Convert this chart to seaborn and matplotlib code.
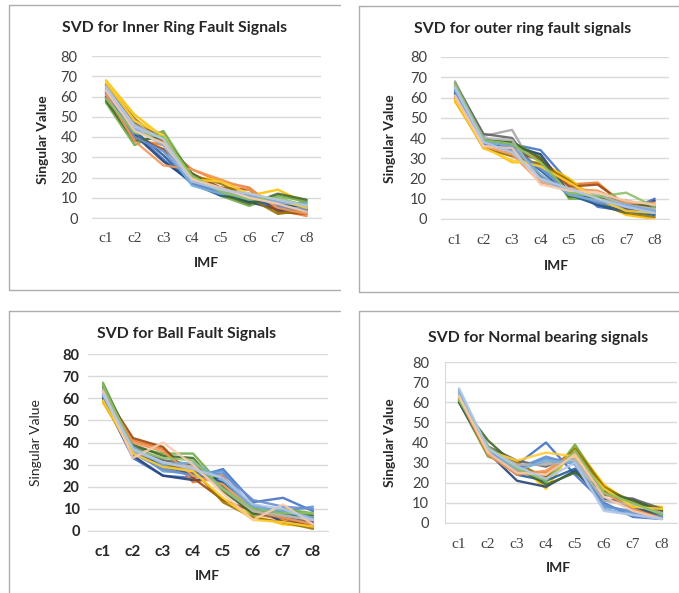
import matplotlib
matplotlib.use("Agg")
import matplotlib.pyplot as plt
from matplotlib.lines import Line2D
import seaborn as sns
import pandas as pd

imfs = ["c1", "c2", "c3", "c4", "c5", "c6", "c7", "c8"]
yticks = [0, 10, 20, 30, 40, 50, 60, 70, 80]

inner_ring = [
    [61, 42, 29, 17, 12, 8, 5, 4],
    [60, 39, 36, 24, 18, 15, 4, 1],
    [64, 45, 38, 20, 14, 10, 7, 5],
    [68, 51, 40, 20, 19, 11, 14, 7],
    [63, 44, 42, 18, 13, 9, 6, 8],
    [57, 36, 43, 21, 11, 6, 11, 8],
    [62, 41, 28, 18, 12, 8, 4, 3],
    [59, 40, 34, 22, 15, 14, 3, 2],
    [65, 47, 37, 19, 15, 11, 8, 5],
    [66, 49, 38, 21, 17, 10, 2, 4],
    [60, 43, 31, 17, 11, 9, 6, 6],
    [58, 38, 40, 22, 12, 7, 12, 9],
    [62, 40, 33, 17, 13, 12, 6, 4],
    [61, 38, 26, 24, 19, 14, 5, 2],
    [64, 46, 39, 20, 14, 10, 8, 6],
    [67, 48, 41, 19, 18, 12, 9, 5],
    [63, 44, 36, 16, 12, 11, 8, 7],
    [59, 42, 40, 21, 13, 9, 10, 6],
    [63, 43, 37, 19, 15, 10, 7, 3],
    [65, 45, 39, 18, 14, 12, 9, 6],
]

outer_ring = [
    [62, 39, 37, 34, 18, 6, 4, 10],
    [60, 37, 35, 30, 17, 18, 6, 7],
    [68, 41, 44, 20, 15, 11, 6, 4],
    [58, 36, 28, 28, 20, 9, 2, 0],
    [64, 38, 33, 26, 14, 9, 5, 3],
    [66, 38, 38, 31, 10, 10, 8, 5],
    [63, 40, 36, 32, 13, 7, 3, 9],
    [61, 37, 34, 29, 16, 17, 7, 6],
    [67, 42, 40, 21, 14, 10, 5, 3],
    [59, 35, 31, 27, 19, 8, 3, 1],
    [62, 38, 35, 24, 12, 7, 4, 2],
    [65, 39, 38, 30, 11, 11, 9, 6],
    [63, 37, 34, 25, 13, 8, 6, 4],
    [60, 36, 32, 18, 15, 14, 8, 8],
    [66, 40, 39, 19, 14, 12, 7, 5],
    [59, 35, 29, 26, 18, 10, 4, 3],
    [64, 38, 36, 22, 12, 9, 7, 4],
    [67, 39, 37, 28, 13, 11, 13, 6],
    [61, 36, 35, 17, 14, 13, 9, 7],
    [65, 38, 33, 20, 15, 10, 6, 3],
]

ball = [
    [60, 33, 25, 24, 28, 13, 15, 9],
    [62, 41, 37, 22, 25, 8, 5, 2],
    [64, 37, 30, 27, 22, 10, 7, 5],
    [58, 36, 28, 27, 14, 7, 3, 2],
    [61, 37, 27, 26, 27, 10, 9, 11],
    [67, 38, 35, 35, 20, 7, 10, 8],
    [60, 34, 25, 23, 24, 11, 4, 3],
    [63, 42, 38, 24, 14, 9, 6, 2],
    [65, 38, 32, 30, 20, 8, 6, 4],
    [59, 35, 30, 28, 13, 6, 4, 1],
    [61, 36, 29, 26, 22, 12, 8, 6],
    [66, 39, 34, 33, 18, 8, 9, 7],
    [62, 35, 28, 25, 26, 14, 11, 10],
    [63, 40, 36, 25, 21, 9, 6, 3],
    [64, 36, 31, 29, 19, 9, 7, 5],
    [59, 35, 29, 27, 15, 5, 4, 2],
    [61, 38, 30, 31, 23, 11, 9, 6],
    [66, 37, 33, 32, 19, 10, 8, 8],
    [63, 33, 40, 30, 17, 5, 12, 3],
    [62, 37, 31, 28, 24, 12, 10, 5],
]

normal = [
    [62, 38, 29, 40, 24, 10, 3, 2],
    [62, 35, 26, 25, 37, 15, 8, 3],
    [64, 37, 28, 30, 32, 12, 10, 6],
    [64, 36, 30, 17, 38, 19, 9, 8],
    [66, 36, 27, 32, 30, 8, 6, 3],
    [60, 33, 28, 20, 39, 17, 11, 5],
    [60, 35, 21, 18, 26, 11, 12, 5],
    [61, 34, 25, 23, 36, 16, 7, 4],
    [63, 38, 31, 28, 34, 14, 12, 7],
    [62, 37, 30, 22, 37, 18, 10, 6],
    [61, 35, 24, 21, 27, 12, 8, 4],
    [60, 41, 28, 19, 25, 16, 11, 6],
    [63, 36, 27, 33, 29, 9, 5, 3],
    [62, 34, 24, 26, 35, 15, 7, 2],
    [64, 37, 29, 29, 31, 11, 9, 5],
    [63, 36, 31, 35, 33, 17, 8, 7],
    [65, 37, 26, 31, 30, 7, 4, 2],
    [61, 38, 27, 21, 36, 15, 10, 4],
    [63, 35, 25, 24, 34, 13, 6, 2],
    [67, 37, 28, 22, 30, 6, 4, 2],
]

titles = ["SVD for Inner Ring Fault Signals", "SVD for outer ring fault signals",
          "SVD for Ball Fault Signals", "SVD for Normal bearing signals"]

palette = ["#4472C4", "#ED7D31", "#A5A5A5", "#FFC000", "#5B9BD5", "#70AD47",
           "#264478", "#9E480E", "#636363", "#997300", "#255E91", "#43682B",
           "#698ED0", "#F1975A", "#B7B7B7", "#FFCD33", "#7CAFDD", "#8CC168",
           "#F8CBAD", "#B4C7E7"]

sns.set_style("white")
plt.rcParams["font.family"] = ["Lato", "DejaVu Sans"]

W, H = 679, 593
fig = plt.figure(figsize=(W / 100, H / 100), dpi=100)

def fx(px):
    return px / W

def fy(py):
    return 1 - py / H

# panel frames (visible parts)
border = "#ADADAD"
frames = [
    [((9, 5), (9, 290)), ((9, 5), (340, 5)), ((9, 290), (340, 290))],
    [((359, 6), (359, 292)), ((359, 6), (679, 6)), ((359, 292), (679, 292))],
    [((9, 311), (9, 593)), ((9, 311), (340, 311))],
    [((359, 311), (359, 593)), ((359, 311), (679, 311))],
]
for segs in frames:
    for (x0, y0), (x1, y1) in segs:
        fig.add_artist(Line2D([fx(x0), fx(x1)], [fy(y0), fy(y1)], color=border, lw=1.0))

# axes extents in pixels: left, right, top(y=80), bottom(y=0)
boxes = [(91.6, 321, 56, 218), (440.7, 669, 57, 219), (88, 328, 354, 531), (444.5, 676.5, 362, 523)]
datasets = [inner_ring, outer_ring, ball, normal]
title_pos = [(174.5, 28), (523, 29), (187, 334), (538, 338)]
ylab_pos = [(43, 140), (390, 139), (36, 443), (390, 443)]
imf_pos = [(206, 263), (556, 266), (207, 576), (558, 568)]
ypads = [10, 10, 6, 11]
xpads = [10, 11, 10, 11]

for i in range(4):
    l, r, t, b = boxes[i]
    ax = fig.add_axes([fx(l), fy(b), (r - l) / W, (b - t) / H])
    rows = []
    for k, s in enumerate(datasets[i]):
        for c, v in zip(imfs, s):
            rows.append({"IMF": c, "value": v, "series": f"s{k + 1}"})
    df = pd.DataFrame(rows)
    sns.lineplot(data=df, x="IMF", y="value", hue="series", palette=palette,
                 legend=False, ax=ax, linewidth=1.7, sort=False, alpha=0.9)
    ax.set_xlim(-0.5, 7.5)
    ax.set_ylim(0, 80)
    ax.set_yticks(yticks)
    ax.yaxis.grid(True, color="#D9D9D9", lw=1.0)
    ax.set_axisbelow(True)
    for sp in ["top", "right", "left"]:
        ax.spines[sp].set_visible(False)
    ax.spines["bottom"].set_color("#D9D9D9")
    if i == 3:
        ax.spines["left"].set_visible(True)
        ax.spines["left"].set_color("#D9D9D9")
    ax.tick_params(axis="both", length=0)
    ax.tick_params(axis="y", pad=ypads[i])
    ax.tick_params(axis="x", pad=xpads[i])
    ax.set_xlabel("")
    ax.set_ylabel("")
    if i == 2:
        for lab in ax.get_yticklabels():
            lab.set_fontweight("bold"); lab.set_fontsize(10.5); lab.set_color("#262626")
        for lab in ax.get_xticklabels():
            lab.set_fontweight("bold"); lab.set_fontsize(11); lab.set_color("#262626")
    else:
        for lab in ax.get_yticklabels():
            lab.set_fontsize(10.5); lab.set_color("#404040")
        for lab in ax.get_xticklabels():
            lab.set_family(["Liberation Serif", "DejaVu Serif"]); lab.set_fontsize(11); lab.set_color("#404040")
    tx, ty = title_pos[i]
    fig.text(fx(tx), fy(ty), titles[i], ha="center", va="center", fontsize=11.3,
             fontweight="bold", color="#262626")
    lx, ly = ylab_pos[i]
    fig.text(fx(lx), fy(ly), "Singular Value", ha="center", va="center", rotation=90,
             fontsize=10, fontweight="normal" if i == 2 else "bold", color="#262626")
    mx, my = imf_pos[i]
    fig.text(fx(mx), fy(my), "IMF", ha="center", va="center", fontsize=10,
             fontweight="bold", color="#262626")

fig.savefig("out.png", dpi=100, facecolor="white")
